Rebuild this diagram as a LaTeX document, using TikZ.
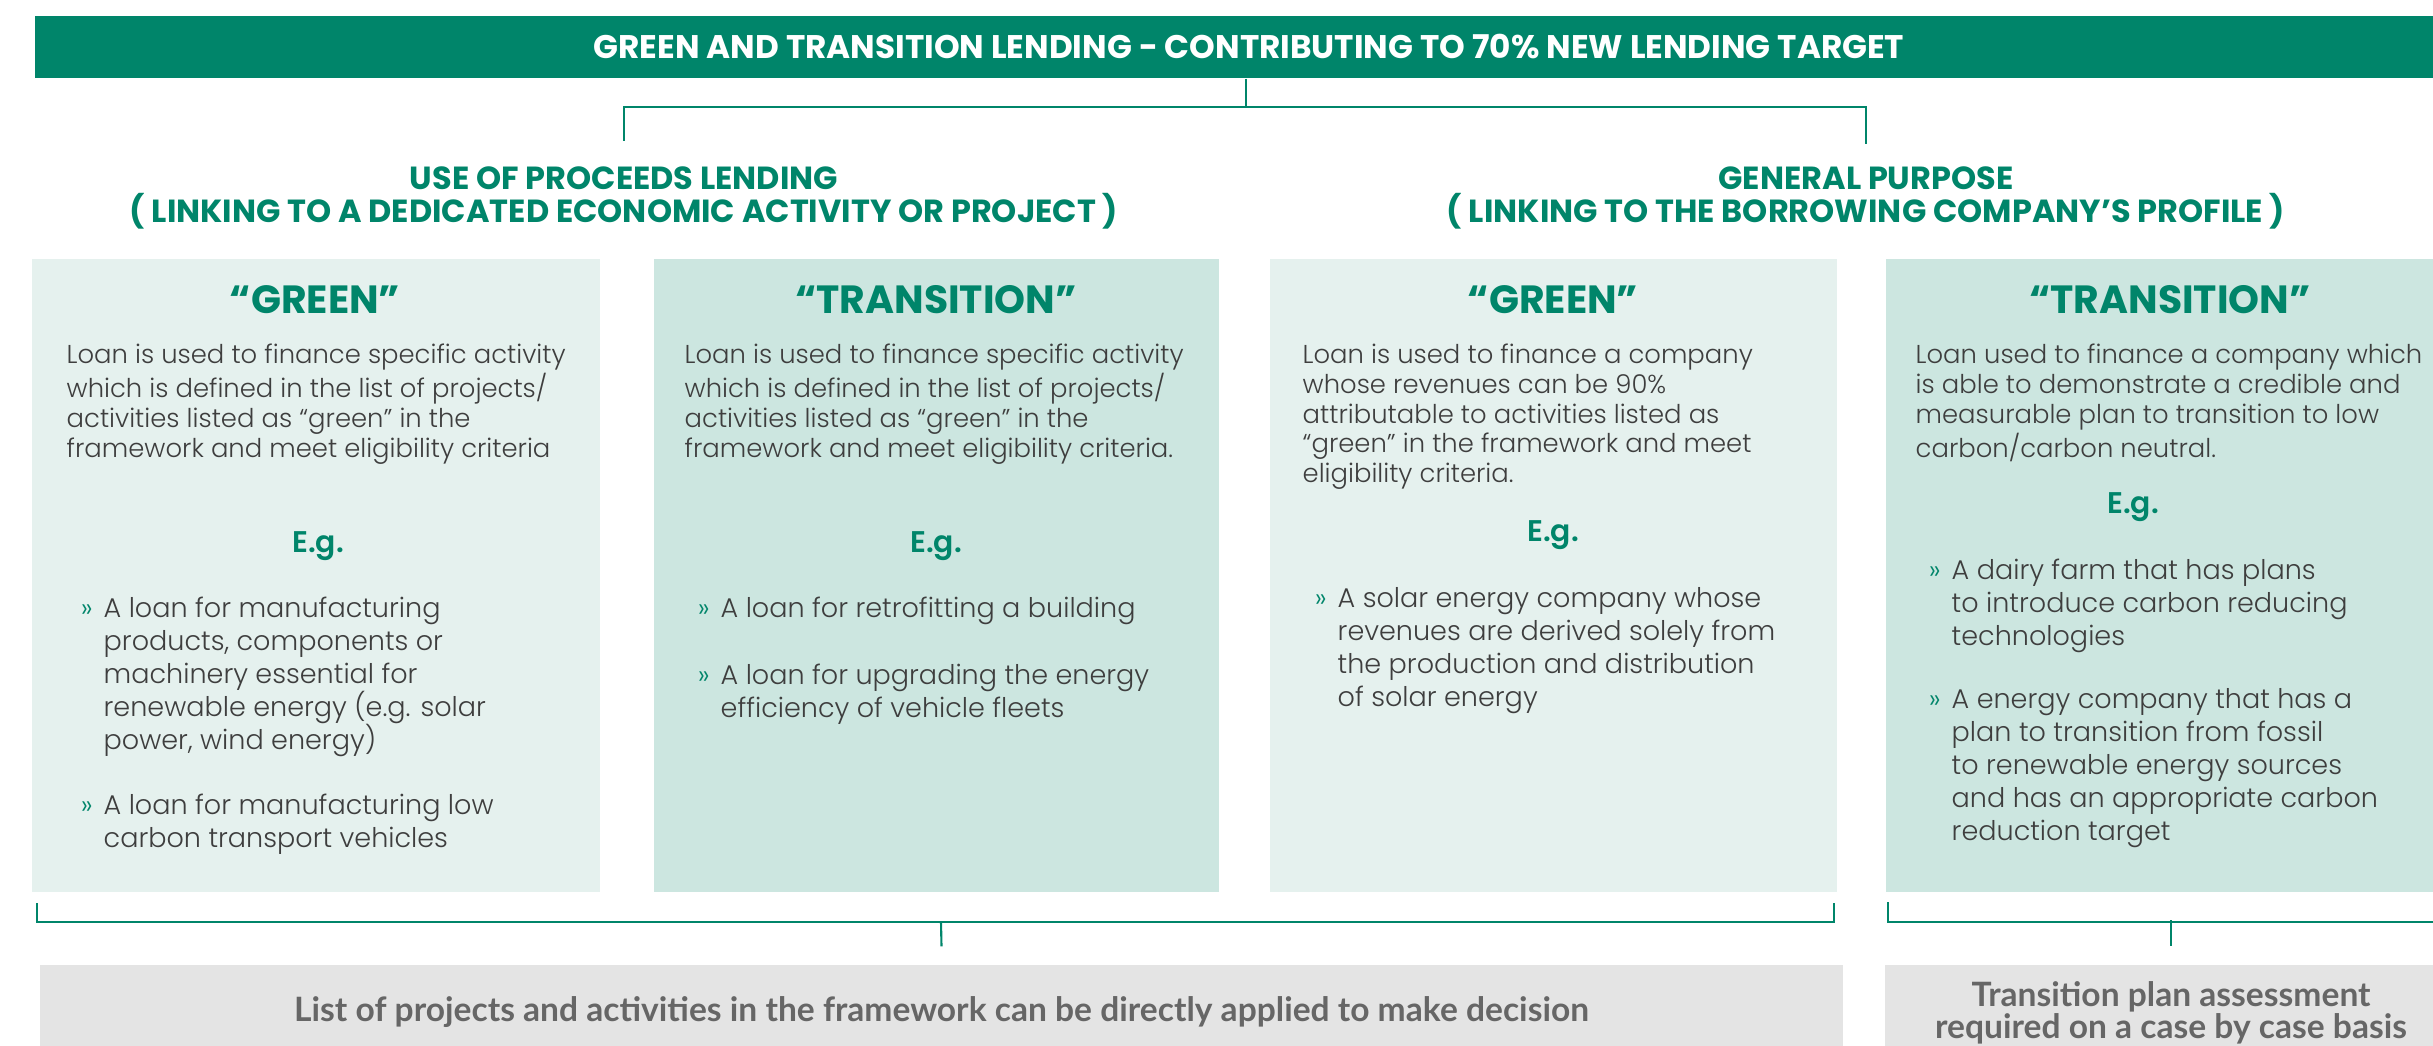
\documentclass[tikz,border=0pt]{standalone}
\usepackage{fontspec}
\setmainfont{Poppins}[UprightFont=*-Light,BoldFont=*-Bold]
\newfontfamily\headfont{Poppins}[UprightFont=*-Bold]
\newfontfamily\egfont{Poppins}[UprightFont=*-SemiBold]
\newfontfamily\notefont{Lato}
\definecolor{gteal}{RGB}{0,133,106}
\definecolor{boxlight}{RGB}{229,241,238}
\definecolor{boxdark}{RGB}{204,230,224}
\definecolor{notegrey}{RGB}{228,228,228}
\definecolor{notetext}{RGB}{102,102,102}
\definecolor{bodygrey}{RGB}{62,62,62}

\begin{document}
\begin{tikzpicture}[
    titlebar/.style={fill=gteal, text=white, inner sep=0, minimum width=24.28cm, minimum height=0.62cm,
      font=\headfont\fontsize{9.3}{10}\selectfont},
    heading/.style={text=gteal, align=center, inner sep=0, anchor=north,
      font=\headfont\fontsize{9.1}{9.4}\selectfont},
    panel/.style={anchor=north west, inner sep=0, minimum height=6.33cm},
    boxtitle/.style={text=gteal, inner sep=0, font=\headfont\fontsize{11.2}{13}\selectfont},
    desc/.style={text=bodygrey, align=left, inner sep=0, anchor=north west,
      font=\fontsize{7.36}{8.5}\selectfont},
    eg/.style={text=gteal, inner sep=0, anchor=base, font=\egfont\fontsize{8.5}{10}\selectfont},
    item/.style={text=bodygrey, align=left, inner sep=0, anchor=north west,
      font=\fontsize{7.7}{9.4}\selectfont},
    note/.style={fill=notegrey, text=notetext, align=center, inner sep=0, minimum height=0.95cm,
      font=\notefont\bfseries\fontsize{9.55}{9.1}\selectfont},
    bracket/.style={draw=gteal, line width=0.6pt}
  ]
  \useasboundingbox (0,0) rectangle (24.33,-10.46);
  \clip (0,0) rectangle (24.33,-10.46);

  \newcommand{\bul}{\makebox[0pt][r]{\textcolor{gteal}{»}\hspace{1.1mm}}}

  \node[titlebar] (title) at (12.49,-0.47) {GREEN AND TRANSITION LENDING - CONTRIBUTING TO 70\% NEW LENDING TARGET};

  \node[heading] (uop) at (6.24,-1.66) {USE OF PROCEEDS LENDING\\( LINKING TO A DEDICATED ECONOMIC ACTIVITY OR PROJECT )};
  \node[heading] (gp) at (18.66,-1.66) {GENERAL PURPOSE\\( LINKING TO THE BORROWING COMPANY’S PROFILE )};

  \coordinate (tj) at (12.46,-1.07);
  \draw[bracket] (tj |- title.south) -- (tj);
  \draw[bracket] ([yshift=2.5mm]uop.north) |- (tj) -| ([yshift=2.2mm]gp.north);

  \node[panel, fill=boxlight, minimum width=5.68cm] (gA) at (0.31,-2.58) {};
  \node[panel, fill=boxdark, minimum width=5.65cm] (gB) at (6.53,-2.58) {};
  \node[panel, fill=boxlight, minimum width=5.67cm] (gC) at (12.69,-2.58) {};
  \node[panel, fill=boxdark, minimum width=5.70cm] (gD) at (18.85,-2.58) {};

  \node[boxtitle] (tA) at (3.15,-3.0) {“GREEN”};
  \node[boxtitle] (tB) at (9.36,-3.0) {“TRANSITION”};
  \node[boxtitle] (tC) at (15.53,-3.0) {“GREEN”};
  \node[boxtitle] (tD) at (21.70,-3.0) {“TRANSITION”};

  \node[desc] (dA) at (0.66,-3.43) {Loan is used to finance specific activity\\which is defined in the list of projects/\\activities listed as “green” in the\\framework and meet eligibility criteria};
  \node[desc] (dB) at (6.84,-3.43) {Loan is used to finance specific activity\\which is defined in the list of projects/\\activities listed as “green” in the\\framework and meet eligibility criteria.};
  \node[desc] (dC) at (13.02,-3.43) {Loan is used to finance a company\\whose revenues can be 90\%\\attributable to activities listed as\\“green” in the framework and meet\\eligibility criteria.};
  \node[desc] (dD) at (19.15,-3.43) {Loan used to finance a company which\\is able to demonstrate a credible and\\measurable plan to transition to low\\carbon/carbon neutral.};

  \node[eg] (eA) at (3.18,-5.53) {E.g.};
  \node[eg] (eB) at (9.36,-5.53) {E.g.};
  \node[eg] (eC) at (15.53,-5.42) {E.g.};
  \node[eg] (eD) at (21.33,-5.14) {E.g.};

  \node[item] (iA1) at (1.03,-5.96) {\bul A loan for manufacturing\\products, components or\\machinery essential for\\renewable energy (e.g. solar\\power, wind energy)};
  \node[item] (iA2) at (1.03,-7.93) {\bul A loan for manufacturing low\\carbon transport vehicles};
  \node[item] (iB1) at (7.20,-5.96) {\bul A loan for retrofitting a building};
  \node[item] (iB2) at (7.20,-6.63) {\bul A loan for upgrading the energy\\efficiency of vehicle fleets};
  \node[item] (iC1) at (13.37,-5.87) {\bul A solar energy company whose\\revenues are derived solely from\\the production and distribution\\of solar energy};
  \node[item] (iD1) at (19.51,-5.58) {\bul A dairy farm that has plans\\to introduce carbon reducing\\technologies};
  \node[item] (iD2) at (19.51,-6.88) {\bul A energy company that has a\\plan to transition from fossil\\to renewable energy sources\\and has an appropriate carbon\\reduction target};

  \node[note, minimum width=18.03cm] (noteL) at (9.415,-10.125) {List of projects and activities in the framework can be directly applied to make decision};
  \node[note, minimum width=5.72cm] (noteR) at (21.71,-10.125) {Transition plan assessment\\required on a case by case basis};

  \coordinate (bjl) at (9.41,-9.22);
  \draw[bracket] ([xshift=0.6mm,yshift=-1.1mm]gA.south west) |- (bjl) -| ([xshift=-0.3mm,yshift=-1.1mm]gC.south east);
  \draw[bracket] (bjl) -- ([yshift=1.8mm]noteL.north);
  \draw[bracket] ([xshift=0.3mm,yshift=-1mm]gD.south west) |- ([yshift=-3mm]gD.south east);
  \draw[bracket] ([yshift=4.4mm]noteR.north) -- ([yshift=1.8mm]noteR.north);
\end{tikzpicture}
\end{document}
